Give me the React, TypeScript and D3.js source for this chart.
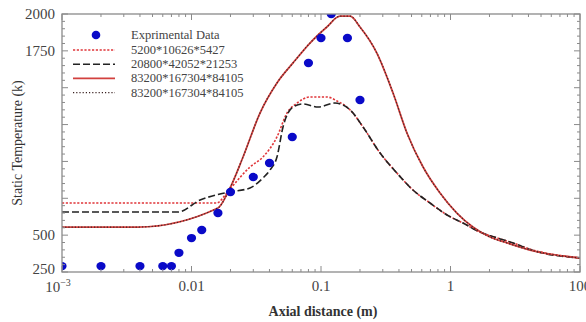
import React from 'react';
import * as d3 from 'd3';

// ---- data ----
const xTickValues = [0.001, 0.01, 0.1, 1, 10];
const xTickLabels = ['10^-3', '0.01', '0.1', '1', '100'];
const yTickLabels = [250, 500, 1750, 2000];

const expX = [0.001, 0.002, 0.004, 0.006, 0.007, 0.008, 0.01, 0.012, 0.016, 0.02, 0.03, 0.04, 0.06, 0.08, 0.1, 0.12, 0.16, 0.2];
const expY = [290, 290, 290, 290, 290, 380, 480, 535, 650, 793, 894, 989, 1166, 1668, 1837, 2000, 1837, 1417];

const coarseX = [0.001, 0.0157, 0.0182, 0.0205, 0.0283, 0.0356, 0.0457, 0.0546, 0.0653, 0.0822, 0.111, 0.133, 0.168, 0.211, 0.286, 0.386, 0.513, 0.695, 0.94, 1.25, 1.69, 2.29, 3.04, 4.11, 10];
const coarseY = [718, 718, 772, 827, 962, 1030, 1166, 1328, 1396, 1437, 1437, 1410, 1349, 1234, 1057, 921, 806, 718, 637, 582, 521, 481, 447, 405, 345];

const mediumX = [0.001, 0.00787, 0.01165, 0.0166, 0.0198, 0.0283, 0.0356, 0.0404, 0.0457, 0.0509, 0.0608, 0.0726, 0.0948, 0.128, 0.168, 0.211, 0.286, 0.386, 0.513, 0.695, 0.94, 1.25, 1.69, 2.29, 3.04, 4.11, 10];
const mediumY = [657, 657, 738, 779, 793, 820, 888, 942, 1030, 1234, 1369, 1390, 1369, 1396, 1349, 1234, 1057, 921, 806, 718, 637, 582, 521, 481, 447, 402, 345];

const fineX = [0.001, 0.00386, 0.016, 0.0195, 0.025, 0.0338, 0.0457, 0.0608, 0.0822, 0.111, 0.14, 0.168, 0.2, 0.27, 0.36, 0.461, 0.614, 0.83, 1.12, 1.49, 2.02, 2.73, 4.11, 10];
const fineY = [555, 555, 684, 806, 1030, 1328, 1532, 1668, 1803, 1912, 1985, 1985, 1912, 1735, 1464, 1193, 962, 786, 650, 555, 487, 447, 399, 345];

const seriesNames = ['5200*10626*5427', '20800*42052*21253', '83200*167304*84105', '83200*167304*84105'];
const expName = 'Exprimental Data';

const W = 586, H = 322;
const L = 62, R = 580, T = 14, B = 272;

const series = [
  { name: seriesNames[0], xs: coarseX, ys: coarseY, color: '#e0363a', dash: '2.2 1.6', width: 1.6 },
  { name: seriesNames[1], xs: mediumX, ys: mediumY, color: '#222222', dash: '7 3', width: 1.6 },
  { name: seriesNames[2], xs: fineX, ys: fineY, color: '#d2403e', dash: '', width: 1.8 },
  { name: seriesNames[3], xs: fineX, ys: fineY, color: '#3a2222', dash: '1.2 2', width: 1.2 },
];

export default function App() {
  const x = d3.scaleLog().domain([0.001, 10]).range([L, R]);
  const y = d3.scaleLinear().domain([250, 2000]).range([B, T]);
  const line = d3.line<[number, number]>()
    .x((d) => x(d[0]))
    .y((d) => y(d[1]))
    .curve(d3.curveMonotoneX);

  const yMinor = d3.range(250, 2001, 50);
  const xMinor: number[] = [];
  for (let e = -3; e <= 0; e++) for (let m = 1; m <= 9; m++) xMinor.push(m * Math.pow(10, e));
  xMinor.push(10);

  const axisColor = '#8a8a8a';
  const font = '"Liberation Serif", "Times New Roman", serif';

  return (
    <svg width={W} height={H} style={{ position: 'absolute', left: 0, top: 0, background: '#fff' }} fontFamily={font}>
      <defs>
        <clipPath id="plot">
          <rect x={L} y={T} width={R - L} height={B - T} />
        </clipPath>
      </defs>
      <rect x={0} y={0} width={W} height={H} fill="#fff" />

      {/* curves */}
      <g clipPath="url(#plot)">
        {series.map((s, i) => (
          <path key={i} d={line(s.xs.map((v, j) => [v, s.ys[j]]) as [number, number][]) || ''}
            fill="none" stroke={s.color} strokeWidth={s.width} strokeDasharray={s.dash || undefined} />
        ))}
        {expX.map((v, i) => (
          <ellipse key={i} cx={x(v)} cy={y(expY[i])} rx={4.6} ry={4.2} fill="#0a0ac8" />
        ))}
      </g>

      {/* frame */}
      <rect x={L} y={T} width={R - L} height={B - T} fill="none" stroke={axisColor} strokeWidth={1.3} />

      {/* y ticks */}
      {yMinor.map((v) => {
        const major = (v - 250) % 250 === 0;
        const len = major ? 6 : 3;
        return (
          <g key={'y' + v} stroke={axisColor} strokeWidth={1}>
            <line x1={L} x2={L + len} y1={y(v)} y2={y(v)} />
            <line x1={R} x2={R - len} y1={y(v)} y2={y(v)} />
          </g>
        );
      })}
      {/* x ticks */}
      {xMinor.map((v, i) => {
        const major = xTickValues.some((t) => Math.abs(t - v) / t < 1e-6);
        const len = major ? 6 : 3;
        return (
          <g key={'x' + i} stroke={axisColor} strokeWidth={1}>
            <line x1={x(v)} x2={x(v)} y1={B} y2={B - len} />
            <line x1={x(v)} x2={x(v)} y1={T} y2={T + len} />
          </g>
        );
      })}

      {/* y tick labels */}
      {yTickLabels.map((v) => (
        <text key={'yl' + v} x={L - 7} y={y(v) + (v === 250 ? 2 : 5)} textAnchor="end" fontSize={15} fill="#444">{v}</text>
      ))}
      {/* x tick labels */}
      {xTickValues.map((v, i) => {
        const lab = xTickLabels[i];
        if (lab.indexOf('^') >= 0) {
          const [base, exp] = lab.split('^');
          return (
            <text key={'xl' + i} x={x(v) - 4} y={B + 20} textAnchor="middle" fontSize={15} fill="#444">
              {base}
              <tspan dy={-6} fontSize={10}>{exp.replace('-', '−')}</tspan>
            </text>
          );
        }
        return (
          <text key={'xl' + i} x={x(v)} y={B + 19} textAnchor="middle" fontSize={15} fill="#444">{lab}</text>
        );
      })}

      {/* axis titles */}
      <text x={(L + R) / 2 + 2} y={316} textAnchor="middle" fontSize={14} fontWeight="bold" fill="#333">Axial distance (m)</text>
      <text transform={`translate(22, ${(T + B) / 2}) rotate(-90)`} textAnchor="middle" fontSize={14} fill="#333">Static Temperature (k)</text>

      {/* legend */}
      <g>
        <circle cx={96} cy={35} r={4.3} fill="#0a0ac8" />
        <text x={131} y={39} fontSize={12.5} fill="#444">{expName}</text>
        {series.map((s, i) => {
          const ly = 50 + i * 14.2;
          return (
            <g key={'lg' + i}>
              <line x1={73} x2={115} y1={ly} y2={ly} stroke={s.color} strokeWidth={s.width} strokeDasharray={s.dash || undefined} />
              <text x={131} y={ly + 4} fontSize={12.5} fill="#444">{s.name}</text>
            </g>
          );
        })}
      </g>
    </svg>
  );
}
